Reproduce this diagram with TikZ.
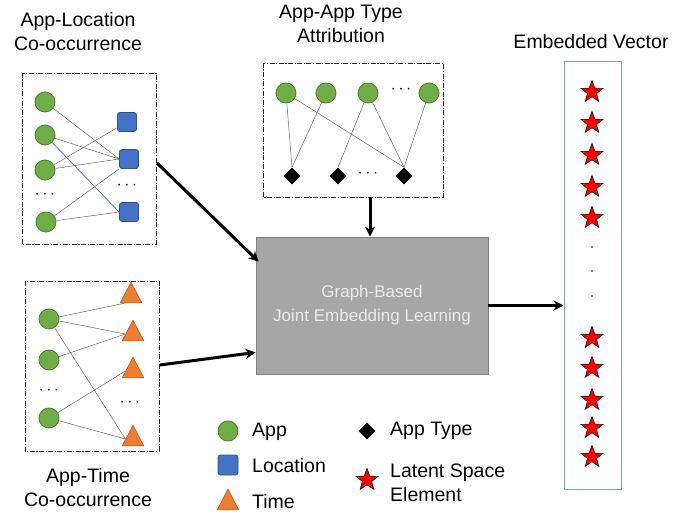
\documentclass[tikz,border=0pt]{standalone}
\usepackage{fontspec}
\setmainfont{Liberation Sans}
\usetikzlibrary{shapes.geometric,arrows.meta}
\definecolor{appg}{HTML}{70AD47}
\definecolor{appgd}{HTML}{507E32}
\definecolor{locb}{HTML}{4472C4}
\definecolor{locbd}{HTML}{2F528F}
\definecolor{timeo}{HTML}{ED7D31}
\definecolor{timeod}{HTML}{AE5A21}
\definecolor{vecb}{HTML}{7F9FD0}
\definecolor{boxg}{HTML}{A6A6A6}
\definecolor{boxgd}{HTML}{7F7F7F}
\tikzset{
  appn/.style={circle,fill=appg,draw=appgd,line width=0.8pt,minimum size=20pt,inner sep=0pt},
  locn/.style={rectangle,rounded corners=2.5pt,fill=locb,draw=locbd,line width=0.8pt,minimum size=19pt,inner sep=0pt},
  timen/.style={regular polygon,regular polygon sides=3,fill=timeo,draw=timeod,line width=0.6pt,minimum size=25pt,inner sep=0pt,yscale=1.1},
  typen/.style={diamond,fill=black,minimum size=17pt,inner sep=0pt},
  starn/.style={star,star points=5,star point ratio=2.4,fill=red,draw=black,line width=0.6pt,minimum size=23pt,inner sep=0pt},
  edgel/.style={draw=black!60,line width=0.5pt},
  frameb/.style={draw=black!85,line width=0.8pt,dash pattern=on 5pt off 1.5pt on 1.2pt off 1.5pt},
  bigarrow/.style={draw=black,line width=3pt,-{Stealth[length=10pt,width=10pt]}},
  lbl/.style={font=\fontsize{19.5}{22}\selectfont,align=center,inner sep=0pt},
  dotsl/.style={font=\fontsize{17}{18}\selectfont,inner sep=0pt},
}
\begin{document}
\begin{tikzpicture}[x=1pt,y=-1pt]
\useasboundingbox (0,0) rectangle (673,519);
% titles
\node[lbl] (t1) at (78,32) {App-Location\\[2pt]Co-occurrence};
\node[lbl] (t2) at (341,24) {App-App Type\\[2pt]Attribution};
\node[lbl] (t3) at (591,42) {Embedded Vector};
\node[lbl] (t4) at (88,488) {App-Time\\[2pt]Co-occurrence};
% box 1
\draw[frameb] (22,73) rectangle (156,244);
\node[appn] (a1) at (45,102) {};
\node[appn] (a2) at (45,135) {};
\node[appn] (a3) at (45,170) {};
\node[appn] (a4) at (46,222) {};
\node[dotsl] (ad) at (45,195) {$\cdots$};
\node[locn] (l1) at (127,122) {};
\node[locn] (l2) at (129,159) {};
\node[locn] (l3) at (129,212) {};
\node[dotsl] (ld) at (127,186) {$\cdots$};
\draw[edgel] (a1) -- (l2.west);
\draw[edgel] (a2) -- (l2.west);
\draw[draw=locb,line width=0.7pt] (a2) -- (l3.west);
\draw[edgel] (a3) -- (l1);
\draw[edgel] (a3) -- (l2.west);
\draw[edgel] (a4) -- (l2.south west);
\draw[edgel] (a4) -- (l3.west);
% box 2
\draw[frameb] (25,281) rectangle (159,451);
\node[appn] (b1) at (49,319) {};
\node[appn] (b2) at (49,360) {};
\node[appn] (b3) at (49,418) {};
\node[dotsl] (bd) at (49,391) {$\cdots$};
\node[timen] (m1) at (131,296) {};
\node[timen] (m2) at (133,334) {};
\node[timen] (m3) at (133,371) {};
\node[timen] (m4) at (133,439) {};
\node[dotsl] (md) at (130,403) {$\cdots$};
\draw[edgel] (b1) -- (m1.south west);
\draw[edgel] (b1) -- (m2.west);
\draw[edgel] (b1) -- (m4.west);
\draw[edgel] (b2) -- (m2.west);
\draw[edgel] (b3) -- (m3.west);
\draw[edgel] (b3) -- (m4.west);
% box 3
\draw[frameb] (263,63) rectangle (443,197);
\node[appn] (p1) at (286,93) {};
\node[appn] (p2) at (326,93) {};
\node[appn] (p3) at (368,93) {};
\node[appn] (p5) at (429,93) {};
\node[dotsl] (pd) at (401,90) {$\cdots$};
\node[typen] (d1) at (292,176) {};
\node[typen] (d2) at (338,176) {};
\node[typen] (d3) at (404,176) {};
\node[dotsl] (dd) at (368,174) {$\cdots$};
\draw[edgel] (p1) -- (d1.north);
\draw[edgel] (p1) -- (d3.north);
\draw[edgel] (p2) -- (d1.north);
\draw[edgel] (p3) -- (d2.north);
\draw[edgel] (p3) -- (d3.north);
\draw[edgel] (p5) -- (d3.north);
% central box
\node[rectangle,fill=boxg,draw=boxgd,line width=0.8pt,minimum width=232pt,minimum height=137pt,
  font=\fontsize{17}{24}\selectfont,text=white!92!black,align=center] (cb) at (372,305.5)
  {Graph-Based\\Joint Embedding Learning};
% vector
\node[rectangle,draw=vecb,line width=1pt,minimum width=57pt,minimum height=427pt,inner sep=0pt] (vec) at (592.5,275.5) {};
\foreach \y/\n in {92/s1,123/s2,155/s3,187/s4,218/s5,338/s6,368/s7,400/s8,428/s9,457/s10}
  \node[starn] (\n) at (592,\y) {};
\foreach \y/\n in {247/v1,271/v2,296/v3}
  \node[circle,fill=black,minimum size=1.8pt,inner sep=0pt] (\n) at (592,\y) {};
% arrows
\coordinate (e1) at (157,163);
\coordinate (e2) at (160,365);
\coordinate (e3) at (370,197);
\draw[bigarrow] (e1) -- ([xshift=3pt,yshift=-25pt]cb.north west);
\draw[bigarrow] (e2) -- ([yshift=22pt]cb.south west);
\draw[bigarrow] (e3) -- ([xshift=-2pt]cb.north);
\draw[bigarrow] (cb.east) -- (cb.east -| vec.west);
% legend
\node[appn] (g1) at (228,431) {};
\node[lbl,anchor=west] (g1t) at (252,432) {App};
\node[locn,minimum size=20pt] (g2) at (228,465) {};
\node[lbl,anchor=west] (g2t) at (252,466) {Location};
\node[timen] (g3) at (228,503) {};
\node[lbl,anchor=west] (g3t) at (252,502) {Time};
\node[typen] (g4) at (367,431) {};
\node[lbl,anchor=west] (g4t) at (390,431) {App Type};
\node[starn] (g5) at (367,480) {};
\node[lbl,anchor=west,align=left] (g5t) at (390,483) {Latent Space\\[2pt]Element};
\end{tikzpicture}
\end{document}
